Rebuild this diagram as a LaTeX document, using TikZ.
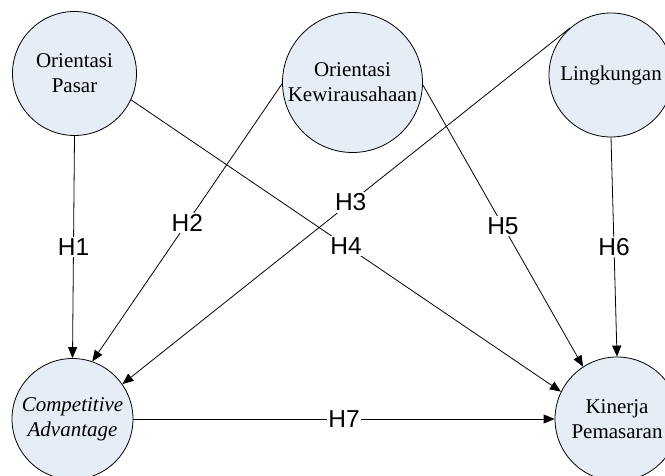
\documentclass[tikz,border=0pt]{standalone}
\usepackage{fontspec}
\setmainfont{Liberation Serif}
\newfontfamily\lblfont{Liberation Sans}
\usetikzlibrary{arrows.meta}
\definecolor{circfill}{RGB}{230,237,247}
\begin{document}
\begin{tikzpicture}[x=1bp,y=-1bp,
  var/.style={circle,draw=black,line width=0.8bp,fill=circfill,inner sep=0pt,align=center,
    font=\fontsize{21bp}{25bp}\selectfont},
  hyp/.style={fill=white,inner sep=1.5bp,font=\lblfont\fontsize{24.5bp}{28bp}\selectfont},
  conn/.style={line width=0.8bp,-{Triangle[length=11bp,width=9bp]}}]
\useasboundingbox (0,0) rectangle (665,476);
\node[var,minimum size=124bp] (op) at (74.5,73.5) {Orientasi\\Pasar};
\node[var,minimum size=140bp] (ok) at (352.5,82.5) {Orientasi\\Kewirausahaan};
\node[var,minimum size=124bp] (ling) at (611,75) {Lingkungan};
\node[var,minimum size=121bp] (ca) at (72.5,419) {\textit{Competitive}\\\textit{Advantage}};
\node[var,minimum size=124bp] (kp) at (617,419) {Kinerja\\Pemasaran};
\draw[conn] (op.south) -- node[hyp]{H1} (ca.north);
\draw[conn] (ok.181) -- node[hyp]{H2} (ca.71);
\draw[conn] (ling.131) -- node[hyp,pos=0.49]{H3} (ca.35);
\draw[conn] (op.-25) -- node[hyp]{H4} (kp.154);
\draw[conn] (ok.-2) -- node[hyp]{H5} (kp.123);
\draw[conn] (ling.south) -- node[hyp]{H6} (kp.north);
\draw[conn] (ca.east) -- node[hyp]{H7} (kp.west);
\end{tikzpicture}
\end{document}
